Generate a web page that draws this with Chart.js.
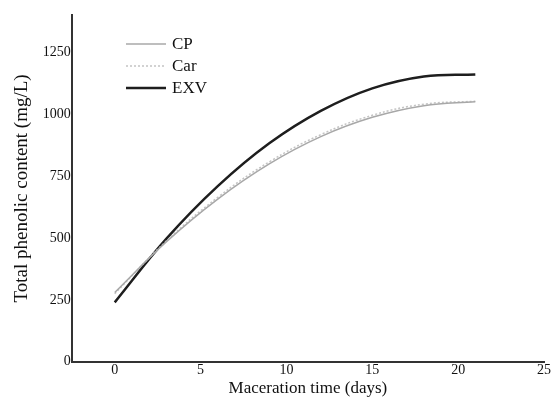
<!DOCTYPE html>
<html>
<head>
<meta charset="utf-8">
<script src="https://cdn.jsdelivr.net/npm/chart.js@4/dist/chart.umd.min.js"></script>
<style>
  body { margin: 0; background: #fff; }
  #wrap { width: 551px; height: 401px; }
</style>
</head>
<body>
<div id="wrap"><canvas id="chart"></canvas></div>
<script>
const days = [0, 3, 6, 9, 12, 15, 18, 21];
const cpValues = [280, 484, 657, 799, 909, 987, 1034, 1050];
const carValues = [275, 487, 664, 807, 917, 995, 1040, 1052];
const exvValues = [240, 496, 709, 882, 1013, 1104, 1152, 1160];
const xTicks = [0, 5, 10, 15, 20, 25];
const yTicks = [0, 250, 500, 750, 1000, 1250];

const serif = "'Liberation Serif', 'DejaVu Serif', serif";

function toPoints(vals) {
  return days.map((d, i) => ({ x: d, y: vals[i] }));
}

// simple legend drawn inside the plot, top left
const innerLegend = {
  id: 'innerLegend',
  afterDraw(c) {
    const ctx = c.ctx;
    ctx.save();
    c.data.datasets.forEach((ds, i) => {
      const y = 44 + i * 22;
      ctx.beginPath();
      ctx.strokeStyle = ds.borderColor;
      ctx.lineWidth = ds.borderWidth;
      ctx.setLineDash(ds.borderDash || []);
      ctx.moveTo(126, y);
      ctx.lineTo(166, y);
      ctx.stroke();
      ctx.setLineDash([]);
      ctx.fillStyle = '#111';
      ctx.font = "17px " + serif;
      ctx.textBaseline = 'middle';
      ctx.fillText(ds.label, 172, y + 1);
    });
    ctx.restore();
  }
};

const chart = document.querySelector('#chart').getContext('2d');

new Chart(chart, {
  type: 'line',
  data: {
    datasets: [
      {
        label: 'CP',
        data: toPoints(cpValues),
        borderColor: '#a8a8a8',
        borderWidth: 1.5,
        tension: 0.4,
        pointRadius: 0
      },
      {
        label: 'Car',
        data: toPoints(carValues),
        borderColor: '#c4c4c4',
        borderWidth: 1.5,
        borderDash: [2, 2],
        tension: 0.4,
        pointRadius: 0
      },
      {
        label: 'EXV',
        data: toPoints(exvValues),
        borderColor: '#1e1e1e',
        borderWidth: 2.5,
        tension: 0.4,
        pointRadius: 0
      }
    ]
  },
  options: {
    responsive: true,
    maintainAspectRatio: false,
    animation: false,
    layout: { padding: { top: 15, right: 0, left: 11, bottom: 2 } },
    plugins: {
      legend: { display: false },
      tooltip: { enabled: false }
    },
    scales: {
      x: {
        type: 'linear',
        min: -2.5,
        max: 25,
        afterBuildTicks: axis => { axis.ticks = xTicks.map(v => ({ value: v })); },
        grid: { display: false, drawTicks: false },
        border: { display: true, color: '#333', width: 2 },
        ticks: {
          color: '#111',
          font: { family: serif, size: 14 },
          padding: 0,
          maxRotation: 0,
          callback: v => String(v)
        },
        title: {
          display: true,
          text: 'Maceration time (days)',
          color: '#111',
          font: { family: serif, size: 17 },
          padding: { top: 0, bottom: 0 }
        }
      },
      y: {
        min: 0,
        max: 1400,
        afterBuildTicks: axis => { axis.ticks = yTicks.map(v => ({ value: v })); },
        grid: { display: false, drawTicks: false },
        border: { display: true, color: '#333', width: 2 },
        ticks: {
          color: '#111',
          font: { family: serif, size: 14 },
          padding: 1,
          callback: v => String(v)
        },
        title: {
          display: true,
          text: 'Total phenolic content (mg/L)',
          color: '#111',
          font: { family: serif, size: 19 },
          padding: { top: 0, bottom: 8 }
        }
      }
    }
  },
  plugins: [innerLegend]
});
</script>
</body>
</html>
